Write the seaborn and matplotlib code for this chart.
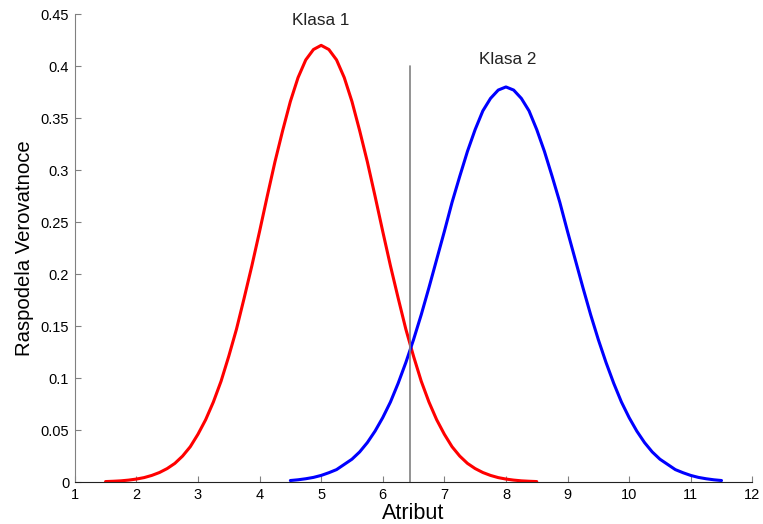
import matplotlib
matplotlib.use("Agg")
import matplotlib.pyplot as plt
import seaborn as sns
import pandas as pd

# vrednosti ocitane sa slike (korak 0.125)
x_klasa1 = [1.5, 1.625, 1.75, 1.875, 2.0, 2.125, 2.25, 2.375, 2.5, 2.625, 2.75, 2.875,
            3.0, 3.125, 3.25, 3.375, 3.5, 3.625, 3.75, 3.875, 4.0, 4.125, 4.25, 4.375,
            4.5, 4.625, 4.75, 4.875, 5.0, 5.125, 5.25, 5.375, 5.5, 5.625, 5.75, 5.875,
            6.0, 6.125, 6.25, 6.375, 6.5, 6.625, 6.75, 6.875, 7.0, 7.125, 7.25, 7.375,
            7.5, 7.625, 7.75, 7.875, 8.0, 8.125, 8.25, 8.375, 8.5]
y_klasa1 = [0.0005, 0.0008, 0.0012, 0.0019, 0.0029, 0.0043, 0.0064, 0.0092, 0.013, 0.018,
            0.025, 0.034, 0.046, 0.060, 0.077, 0.097, 0.121, 0.147, 0.177, 0.208, 0.241,
            0.275, 0.308, 0.338, 0.366, 0.389, 0.406, 0.416, 0.42, 0.416, 0.406, 0.389,
            0.366, 0.338, 0.308, 0.275, 0.241, 0.208, 0.177, 0.147, 0.121, 0.097, 0.077,
            0.060, 0.046, 0.034, 0.025, 0.018, 0.013, 0.0092, 0.0064, 0.0043, 0.0029,
            0.0019, 0.0012, 0.0008, 0.0005]

x_klasa2 = [4.5, 4.625, 4.75, 4.875, 5.0, 5.125, 5.25, 5.375, 5.5, 5.625, 5.75, 5.875,
            6.0, 6.125, 6.25, 6.375, 6.5, 6.625, 6.75, 6.875, 7.0, 7.125, 7.25, 7.375,
            7.5, 7.625, 7.75, 7.875, 8.0, 8.125, 8.25, 8.375, 8.5, 8.625, 8.75, 8.875,
            9.0, 9.125, 9.25, 9.375, 9.5, 9.625, 9.75, 9.875, 10.0, 10.125, 10.25, 10.375,
            10.5, 10.625, 10.75, 10.875, 11.0, 11.125, 11.25, 11.375, 11.5]
y_klasa2 = [0.0015, 0.0022, 0.0032, 0.0045, 0.0064, 0.0090, 0.012, 0.017, 0.022, 0.029,
            0.038, 0.049, 0.062, 0.077, 0.095, 0.115, 0.137, 0.161, 0.187, 0.214, 0.241,
            0.269, 0.294, 0.318, 0.339, 0.357, 0.369, 0.377, 0.38, 0.377, 0.369, 0.357,
            0.339, 0.318, 0.294, 0.269, 0.241, 0.214, 0.187, 0.161, 0.137, 0.115, 0.095,
            0.077, 0.062, 0.049, 0.038, 0.029, 0.022, 0.017, 0.012, 0.0090, 0.0064,
            0.0045, 0.0032, 0.0022, 0.0015]

prag_x = 6.45
prag_vrh = 0.4

x_ticks = list(range(1, 13))
y_ticks = [0, 0.05, 0.1, 0.15, 0.2, 0.25, 0.3, 0.35, 0.4, 0.45]
y_tick_labels = ["0", "0.05", "0.1", "0.15", "0.2", "0.25", "0.3", "0.35", "0.4", "0.45"]

sns.set_style("white")
plt.rcParams["font.family"] = ["Liberation Sans", "DejaVu Sans"]
plt.rcParams["text.color"] = "black"
plt.rcParams["axes.labelcolor"] = "black"

df1 = pd.DataFrame({"x": x_klasa1, "y": y_klasa1})
df2 = pd.DataFrame({"x": x_klasa2, "y": y_klasa2})

fig = plt.figure(figsize=(7.63, 5.24), dpi=100)
ax = fig.add_axes([0.098, 0.080, 0.888, 0.893])

sns.lineplot(data=df1, x="x", y="y", color="#ff0000", linewidth=2.2, ax=ax,
             solid_joinstyle="round", solid_capstyle="round")
sns.lineplot(data=df2, x="x", y="y", color="#0000ff", linewidth=2.2, ax=ax,
             solid_joinstyle="round", solid_capstyle="round")

# granica odluke
ax.plot([prag_x, prag_x], [0, prag_vrh], color="#808080", linewidth=1.2)

ax.text(5.0, 0.4436, "Klasa 1", ha="center", va="center", fontsize=12.3, color="#222222")
ax.text(8.03, 0.4064, "Klasa 2", ha="center", va="center", fontsize=12.3, color="#222222")

ax.set_xlim(1, 12)
ax.set_ylim(0, 0.45)
ax.set_xticks(x_ticks)
ax.set_yticks(y_ticks)
ax.set_yticklabels(y_tick_labels)
ax.tick_params(axis="x", bottom=True, direction="in", length=4, width=0.8,
               labelsize=10.5, colors="#808080", labelcolor="black", pad=4)
ax.tick_params(axis="y", left=True, direction="in", length=4, width=0.8,
               labelsize=10.5, colors="#808080", labelcolor="black", pad=4)
ax.set_xlabel("Atribut", fontsize=15.5, labelpad=1)
ax.set_ylabel("Raspodela Verovatnoce", fontsize=14.6, labelpad=5)

sns.despine(ax=ax)
ax.spines["left"].set_color("#808080")
ax.spines["bottom"].set_color("#222222")

plt.savefig("out.png", dpi=100)
